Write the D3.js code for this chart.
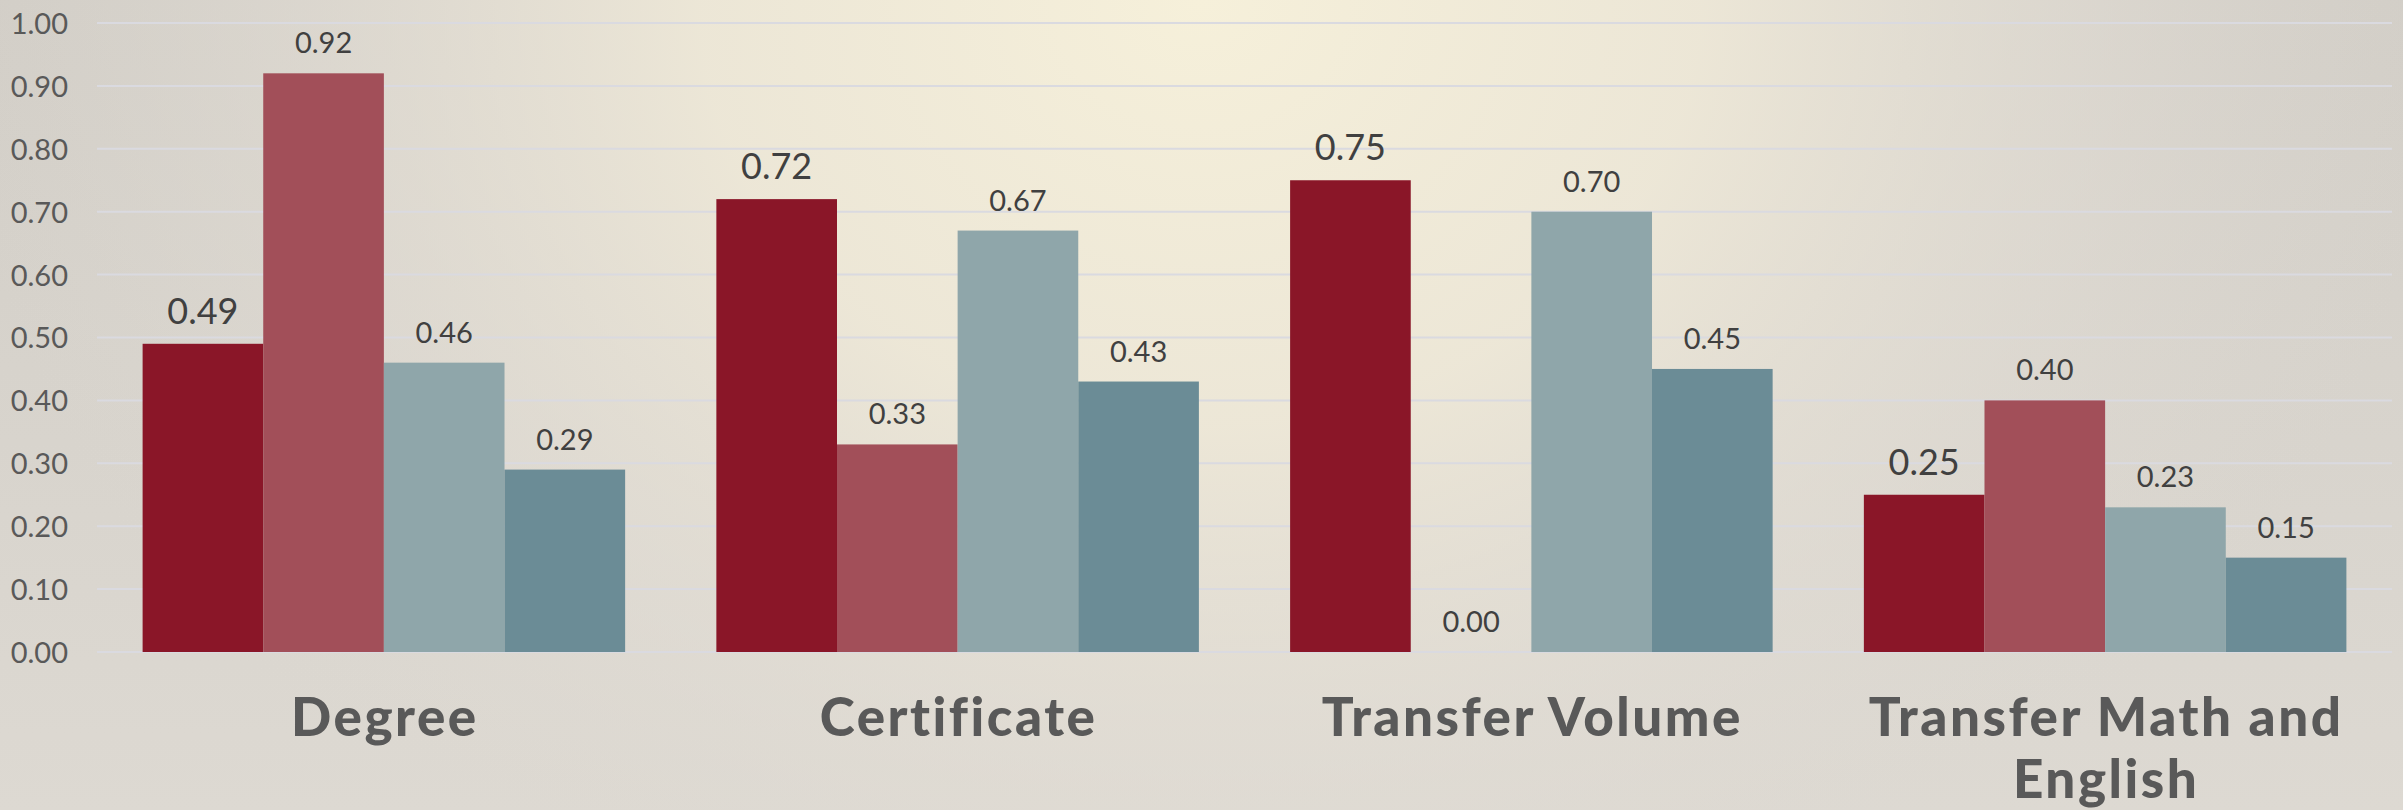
<!DOCTYPE html>
<html>
<head>
	<title>Outcome rates</title>
	<script src="https://d3js.org/d3.v7.min.js"></script>
	<style type="text/css">
		html, body { margin:0; padding:0; }
		svg { display:block; }
		text { font-family: Lato, "Open Sans", sans-serif; }
	</style>
</head>
<body>
	<script type="text/javascript">

		// categories along the x axis
		var categories = ["Degree", "Certificate", "Transfer Volume", "Transfer Math and English"];

		// four series, one value per category
		var series1 = [0.49, 0.72, 0.75, 0.25];
		var series2 = [0.92, 0.33, 0.00, 0.40];
		var series3 = [0.46, 0.67, 0.70, 0.23];
		var series4 = [0.29, 0.43, 0.45, 0.15];

		// y axis ticks
		var yTicks = [0, 0.1, 0.2, 0.3, 0.4, 0.5, 0.6, 0.7, 0.8, 0.9, 1.0];

		var allSeries = [series1, series2, series3, series4];
		var colors = ["#8a1628", "#a24f59", "#8fa6aa", "#6b8c96"];

		var w = 2403, h = 810;

		var svg = d3.select("body").append("svg")
			.attr("width", w)
			.attr("height", h);

		// background: cool grey base with a warm glow at top centre
		var defs = svg.append("defs");
		var lin = defs.append("linearGradient")
			.attr("id", "bgLin")
			.attr("x1", 0).attr("y1", 0).attr("x2", 0).attr("y2", 1);
		lin.append("stop").attr("offset", "0%").attr("stop-color", "#d2cec7");
		lin.append("stop").attr("offset", "100%").attr("stop-color", "#ddd9d2");

		var rad = defs.append("radialGradient")
			.attr("id", "bgRad")
			.attr("gradientUnits", "userSpaceOnUse")
			.attr("cx", 1200).attr("cy", 0).attr("r", 1250)
			.attr("gradientTransform", "translate(1200,0) scale(1,0.85) translate(-1200,0)");
		rad.append("stop").attr("offset", "0%").attr("stop-color", "#f6f0da").attr("stop-opacity", 1);
		rad.append("stop").attr("offset", "40%").attr("stop-color", "#efe9d8").attr("stop-opacity", 0.9);
		rad.append("stop").attr("offset", "72%").attr("stop-color", "#e3ded5").attr("stop-opacity", 0.5);
		rad.append("stop").attr("offset", "100%").attr("stop-color", "#dcd8d1").attr("stop-opacity", 0);

		svg.append("rect").attr("width", w).attr("height", h).attr("fill", "url(#bgLin)");
		svg.append("rect").attr("width", w).attr("height", h).attr("fill", "url(#bgRad)");

		// scales
		var x0 = d3.scaleBand()
			.domain(categories)
			.range([97, 2392])
			.paddingInner(0.159)
			.paddingOuter(0.0795);

		var x1 = d3.scaleBand()
			.domain(d3.range(allSeries.length))
			.range([0, x0.bandwidth()]);

		var y = d3.scaleLinear()
			.domain([0, 1])
			.range([652, 23]);

		// gridlines
		svg.append("g")
			.selectAll("line")
			.data(yTicks)
			.enter()
			.append("line")
				.attr("x1", 97)
				.attr("x2", 2392)
				.attr("y1", function(d){ return y(d); })
				.attr("y2", function(d){ return y(d); })
				.attr("stroke", "#dadae0")
				.attr("stroke-width", 2);

		// y axis labels
		var yAxis = d3.axisLeft(y)
			.tickValues(yTicks)
			.tickFormat(d3.format(".2f"))
			.tickSize(0)
			.tickPadding(0);

		var gy = svg.append("g")
			.attr("transform", "translate(68,0)")
			.call(yAxis);
		gy.select(".domain").remove();
		gy.selectAll("text")
			.attr("font-family", "Lato, sans-serif")
			.attr("font-size", "29px")
			.attr("fill", "#595959")
			.attr("dy", "0.36em");

		// bars
		var groups = svg.append("g")
			.selectAll("g")
			.data(categories)
			.enter()
			.append("g")
				.attr("transform", function(d){ return "translate(" + x0(d) + ",0)"; });

		groups.selectAll("rect")
			.data(function(d, i){ return allSeries.map(function(s, k){ return {k:k, v:s[i]}; }); })
			.enter()
			.append("rect")
				.attr("x", function(d){ return x1(d.k); })
				.attr("width", x1.bandwidth())
				.attr("y", function(d){ return y(d.v); })
				.attr("height", function(d){ return y(0) - y(d.v); })
				.attr("fill", function(d){ return colors[d.k]; });

		// value labels, first series a bit larger
		groups.selectAll("text")
			.data(function(d, i){ return allSeries.map(function(s, k){ return {k:k, v:s[i]}; }); })
			.enter()
			.append("text")
				.attr("x", function(d){ return x1(d.k) + x1.bandwidth() / 2; })
				.attr("y", function(d){ return y(d.v) - 20; })
				.attr("text-anchor", "middle")
				.attr("font-size", function(d){ return d.k === 0 ? "36px" : "29px"; })
				.attr("fill", "#404040")
				.text(function(d){ return d3.format(".2f")(d.v); });

		// category labels, wrapped to the band width
		var cat = svg.append("g")
			.selectAll("text")
			.data(categories)
			.enter()
			.append("text")
				.attr("x", function(d){ return x0(d) + x0.bandwidth() / 2 + 1; })
				.attr("y", 736)
				.attr("text-anchor", "middle")
				.attr("font-size", "53px")
				.attr("font-weight", 900)
				.attr("letter-spacing", "2.5px")
				.attr("fill", "#595959");

		cat.each(function(d){
			var el = d3.select(this);
			var words = d.split(" ");
			var line = [];
			var cx = +el.attr("x");
			var ts = el.append("tspan").attr("x", cx);
			words.forEach(function(word){
				line.push(word);
				ts.text(line.join(" "));
				if (ts.node().getComputedTextLength() > x0.step() - 40 && line.length > 1) {
					line.pop();
					ts.text(line.join(" "));
					line = [word];
					ts = el.append("tspan").attr("x", cx).attr("dy", 62).text(word);
				}
			});
		});

	</script>
</body>
</html>
